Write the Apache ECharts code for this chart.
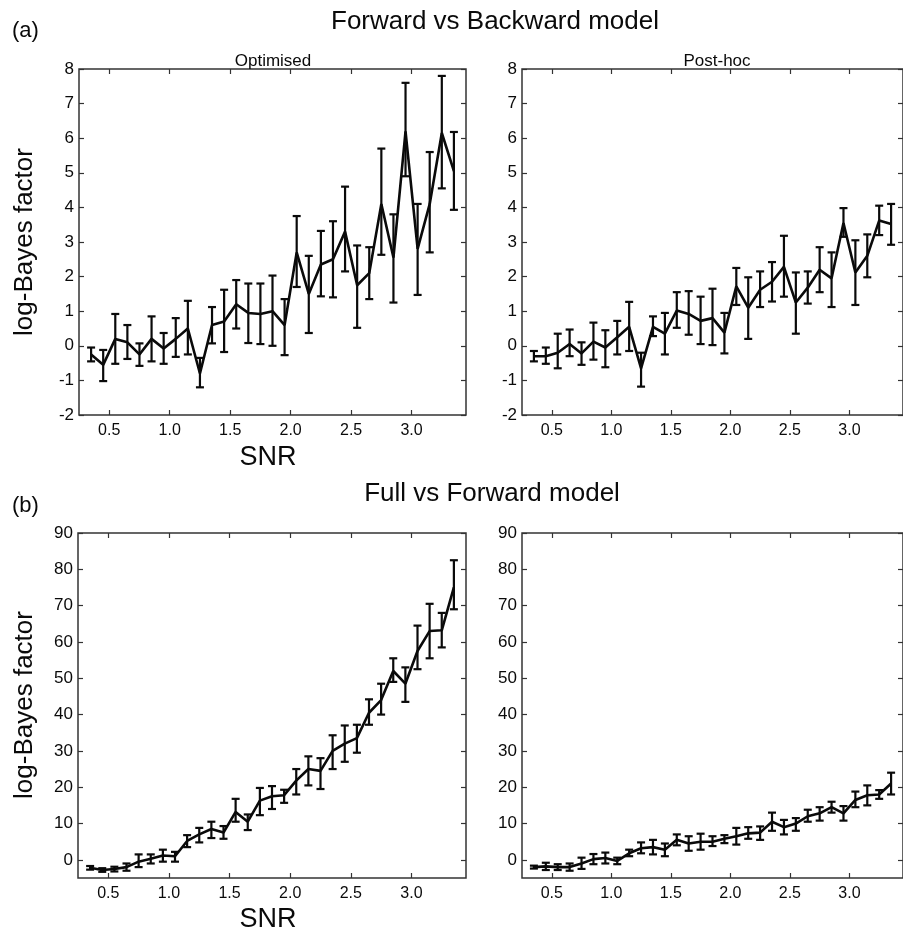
<!DOCTYPE html>
<html>
<head>
<meta charset="utf-8">
<script src="https://cdn.jsdelivr.net/npm/echarts@6/dist/echarts.min.js"></script>
<style>
html, body { margin: 0; padding: 0; background: #fff; }
#chart { width: 903px; height: 934px; }
</style>
</head>
<body>
<div id="chart"></div>
<script>
// SNR values (x)
var snr = [0.35, 0.45, 0.55, 0.65, 0.75, 0.85, 0.95, 1.05, 1.15, 1.25, 1.35, 1.45, 1.55, 1.65, 1.75, 1.85,
	1.95, 2.05, 2.15, 2.25, 2.35, 2.45, 2.55, 2.65, 2.75, 2.85, 2.95, 3.05, 3.15, 3.25, 3.35];
var xTicks = [0.5, 1.0, 1.5, 2.0, 2.5, 3.0];
var yTicksA = [-2, -1, 0, 1, 2, 3, 4, 5, 6, 7, 8];
var yTicksB = [0, 10, 20, 30, 40, 50, 60, 70, 80, 90];

// (a) Forward vs Backward, optimised
var fbOptMean = [-0.25, -0.55, 0.2, 0.1, -0.25, 0.2, -0.08, 0.2, 0.5, -0.8, 0.6, 0.7, 1.2, 0.95, 0.92, 1.0,
	0.6, 2.7, 1.5, 2.35, 2.5, 3.3, 1.75, 2.1, 4.1, 2.55, 6.2, 2.8, 4.1, 6.15, 5.05];
var fbOptLo = [-0.45, -1.02, -0.52, -0.38, -0.58, -0.45, -0.52, -0.32, -0.25, -1.2, 0.07, -0.18, 0.5, 0.08, 0.05, 0.0,
	-0.27, 1.7, 0.37, 1.43, 1.4, 2.15, 0.52, 1.35, 2.63, 1.25, 4.9, 1.47, 2.7, 4.55, 3.93];
var fbOptHi = [-0.05, -0.12, 0.92, 0.6, 0.07, 0.85, 0.37, 0.8, 1.3, -0.35, 1.12, 1.62, 1.9, 1.8, 1.8, 2.03,
	1.35, 3.75, 2.6, 3.32, 3.6, 4.6, 2.9, 2.85, 5.7, 3.8, 7.6, 4.1, 5.6, 7.8, 6.18];

// (a) Forward vs Backward, post-hoc
var fbPostMean = [-0.3, -0.3, -0.2, 0.05, -0.22, 0.12, -0.05, 0.25, 0.55, -0.65, 0.55, 0.35, 1.02, 0.92, 0.72, 0.8,
	0.38, 1.72, 1.1, 1.62, 1.85, 2.28, 1.25, 1.68, 2.2, 1.95, 3.55, 2.12, 2.6, 3.62, 3.52];
var fbPostLo = [-0.45, -0.52, -0.65, -0.3, -0.55, -0.4, -0.62, -0.25, -0.15, -1.18, 0.28, -0.25, 0.52, 0.32, 0.05, 0.02,
	-0.22, 1.18, 0.2, 1.12, 1.28, 1.42, 0.35, 1.22, 1.55, 1.12, 3.15, 1.18, 1.98, 3.2, 2.92];
var fbPostHi = [-0.15, -0.05, 0.35, 0.47, 0.1, 0.67, 0.45, 0.72, 1.27, -0.2, 0.85, 0.95, 1.55, 1.58, 1.42, 1.65,
	0.95, 2.25, 1.98, 2.15, 2.42, 3.18, 2.12, 2.15, 2.85, 2.7, 3.98, 3.05, 3.22, 4.05, 4.1];

// (b) Full vs Forward, optimised
var ffOptMean = [-2.2, -2.8, -2.5, -2.0, -0.5, 0.3, 1.2, 1.0, 5.2, 7.0, 8.5, 7.5, 13.2, 10.5, 16.3, 17.5,
	17.8, 21.8, 25.0, 24.5, 30.0, 32.0, 33.5, 40.5, 44.0, 52.0, 48.5, 57.5, 63.0, 63.2, 75.0];
var ffOptLo = [-2.7, -3.3, -3.2, -3.0, -2.0, -1.0, -0.5, -0.5, 3.5, 4.8, 6.0, 5.8, 10.5, 8.2, 12.3, 14.0,
	15.7, 18.0, 20.5, 19.5, 25.0, 27.0, 29.5, 37.2, 40.0, 49.0, 43.5, 52.5, 55.5, 58.5, 69.0];
var ffOptHi = [-1.7, -2.3, -1.9, -1.0, 1.5, 1.5, 2.8, 2.2, 6.8, 8.8, 10.5, 9.3, 16.8, 12.5, 19.8, 20.3,
	19.3, 25.0, 28.5, 28.0, 34.3, 37.0, 37.2, 44.2, 48.5, 55.5, 53.0, 64.5, 70.5, 68.0, 82.5];

// (b) Full vs Forward, post-hoc
var ffPostMean = [-2.0, -1.8, -2.0, -2.0, -1.0, 0.2, 0.5, -0.3, 1.8, 3.2, 3.5, 2.8, 5.5, 4.5, 5.0, 5.0,
	5.8, 6.5, 7.3, 7.5, 10.5, 9.0, 10.0, 12.0, 12.8, 14.5, 12.8, 16.5, 17.8, 18.0, 21.0];
var ffPostLo = [-2.4, -2.8, -2.8, -3.0, -2.5, -1.2, -1.0, -1.2, 1.0, 1.8, 1.5, 1.0, 4.0, 2.5, 2.8, 3.8,
	4.6, 4.2, 5.8, 5.5, 8.0, 7.0, 8.0, 10.5, 10.8, 13.0, 10.8, 14.5, 15.0, 16.8, 18.0];
var ffPostHi = [-1.6, -0.8, -1.2, -1.0, 0.6, 1.6, 2.0, 0.6, 2.8, 4.8, 5.5, 4.5, 7.0, 6.5, 7.2, 6.5,
	6.8, 8.8, 9.0, 9.2, 13.0, 11.0, 11.5, 13.8, 14.5, 16.0, 14.8, 18.8, 20.5, 19.2, 24.0];

var INK = '#0a0a0a';
var SANS = 'Liberation Sans, Arial, sans-serif';

function pairs(xs, ys) {
	var out = [];
	for (var i = 0; i < xs.length; i++) {
		out.push([xs[i], ys[i]]);
	}
	return out;
}
function triples(xs, lo, hi) {
	var out = [];
	for (var i = 0; i < xs.length; i++) {
		out.push([xs[i], lo[i], hi[i]]);
	}
	return out;
}

// vertical error bar with caps
function renderBar(params, api) {
	var x = api.value(0);
	var p1 = api.coord([x, api.value(1)]);
	var p2 = api.coord([x, api.value(2)]);
	var cap = 4;
	var style = { stroke: INK, lineWidth: 2.2 };
	return {
		type: 'group',
		children: [
			{ type: 'line', shape: { x1: p1[0], y1: p1[1], x2: p2[0], y2: p2[1] }, style: style },
			{ type: 'line', shape: { x1: p1[0] - cap, y1: p1[1], x2: p1[0] + cap, y2: p1[1] }, style: style },
			{ type: 'line', shape: { x1: p2[0] - cap, y1: p2[1], x2: p2[0] + cap, y2: p2[1] }, style: style }
		]
	};
}

var grids = [
	{ left: 79, top: 69, width: 387, height: 346 },
	{ left: 522, top: 69, width: 387, height: 346 },
	{ left: 78, top: 533, width: 388, height: 345 },
	{ left: 522, top: 533, width: 387, height: 345 }
];
var panels = [
	{ mean: fbOptMean, lo: fbOptLo, hi: fbOptHi, ymin: -2, ymax: 8, yticks: yTicksA },
	{ mean: fbPostMean, lo: fbPostLo, hi: fbPostHi, ymin: -2, ymax: 8, yticks: yTicksA },
	{ mean: ffOptMean, lo: ffOptLo, hi: ffOptHi, ymin: -5, ymax: 90, yticks: yTicksB },
	{ mean: ffPostMean, lo: ffPostLo, hi: ffPostHi, ymin: -5, ymax: 90, yticks: yTicksB }
];

var tickStyle = { color: '#333', width: 1.2 };
var xAxes = [], yAxes = [], series = [];
for (var g = 0; g < 4; g++) {
	var pn = panels[g];
	grids[g].show = true;
	grids[g].borderColor = '#333';
	grids[g].borderWidth = 1.5;
	grids[g].backgroundColor = 'transparent';

	// bottom axis with labels, top axis mirrored ticks only
	xAxes.push({
		type: 'value', gridIndex: g, min: 0.25, max: 3.45, position: 'bottom',
		axisLine: { show: false, onZero: false }, splitLine: { show: false },
		axisTick: { inside: true, length: 5, customValues: xTicks, lineStyle: tickStyle },
		axisLabel: {
			customValues: xTicks, margin: 8, fontSize: 16, fontFamily: SANS, color: INK,
			formatter: function(v) { return v.toFixed(1); }
		}
	});
	xAxes.push({
		type: 'value', gridIndex: g, min: 0.25, max: 3.45, position: 'top',
		axisLine: { show: false, onZero: false }, splitLine: { show: false }, axisLabel: { show: false },
		axisTick: { inside: true, length: 5, customValues: xTicks, lineStyle: tickStyle }
	});
	yAxes.push({
		type: 'value', gridIndex: g, min: pn.ymin, max: pn.ymax, position: 'left',
		axisLine: { show: false, onZero: false }, splitLine: { show: false },
		axisTick: { inside: true, length: 5, customValues: pn.yticks, lineStyle: tickStyle },
		axisLabel: { customValues: pn.yticks, margin: 5, fontSize: 17, fontFamily: SANS, color: INK }
	});
	yAxes.push({
		type: 'value', gridIndex: g, min: pn.ymin, max: pn.ymax, position: 'right',
		axisLine: { show: false, onZero: false }, splitLine: { show: false }, axisLabel: { show: false },
		axisTick: { inside: true, length: 5, customValues: pn.yticks, lineStyle: tickStyle }
	});

	series.push({
		type: 'custom', xAxisIndex: g * 2, yAxisIndex: g * 2,
		renderItem: renderBar, data: triples(snr, pn.lo, pn.hi), encode: { x: 0, y: [1, 2] },
		silent: true, z: 3
	});
	series.push({
		type: 'line', xAxisIndex: g * 2, yAxisIndex: g * 2,
		data: pairs(snr, pn.mean), symbol: 'none', silent: true, z: 4,
		lineStyle: { color: INK, width: 2.6 }
	});
}

// free texts: titles, panel letters, axis names
function label(text, x, y, size, align, rotated) {
	return {
		type: 'text', x: x, y: y, rotation: rotated ? Math.PI / 2 : 0,
		style: { text: text, fill: INK, font: size + 'px ' + SANS, align: align, verticalAlign: 'middle' }
	};
}
var texts = [
	label('(a)', 12, 31, 22, 'left'),
	label('Forward vs Backward model', 495, 22, 26, 'center'),
	label('Optimised', 273, 61, 17, 'center'),
	label('Post-hoc', 717, 61, 17, 'center'),
	label('SNR', 268, 458, 27, 'center'),
	label('(b)', 12, 506, 22, 'left'),
	label('Full vs Forward model', 492, 494, 26, 'center'),
	label('SNR', 268, 920, 27, 'center'),
	label('log-Bayes factor', 25, 242, 26, 'center', true),
	label('log-Bayes factor', 25, 705, 26, 'center', true)
];

var myChart = echarts.init(document.getElementById('chart'), null, { renderer: 'canvas' });
myChart.setOption({
	backgroundColor: '#fff',
	animation: false,
	grid: grids,
	xAxis: xAxes,
	yAxis: yAxes,
	series: series,
	graphic: texts
});
</script>
</body>
</html>
